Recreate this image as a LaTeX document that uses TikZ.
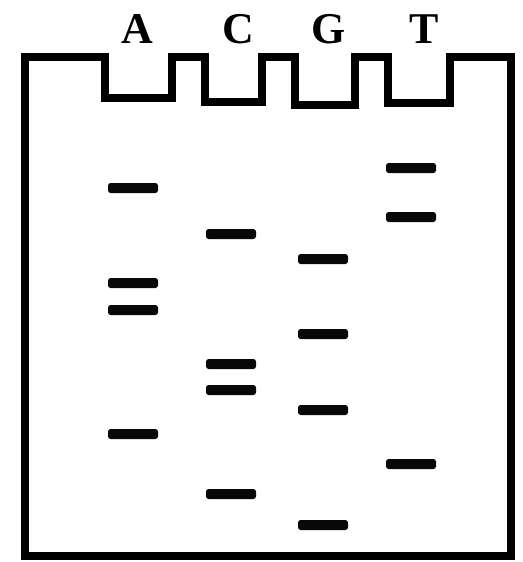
\documentclass[tikz,border=0pt]{standalone}
\usepackage{fontspec}
\setmainfont{Liberation Serif}
\definecolor{gelInk}{RGB}{0,0,0}
\definecolor{bandInk}{RGB}{8,8,8}

\begin{document}
\begin{tikzpicture}[x=0.02cm,y=-0.02cm,line join=miter]

% fixed canvas, 522 x 562 units
\path[use as bounding box] (0,0) rectangle (522,562);

% lane letters above the wells
\node[font=\bfseries\fontsize{25}{30}\selectfont,anchor=base] (laneA) at (137,43) {A};
\node[font=\bfseries\fontsize{25}{30}\selectfont,anchor=base] (laneC) at (238,43) {C};
\node[font=\bfseries\fontsize{25}{30}\selectfont,anchor=base] (laneG) at (329,43) {G};
\node[font=\bfseries\fontsize{25}{30}\selectfont,anchor=base] (laneT) at (424,43) {T};

% gel outline with the four sample wells cut into the top edge
\draw[gelInk,line width=4.1pt]
  (25,556) -- (25,57) -- (105,57) -- (105,98) -- (172,98) -- (172,57) --
  (205,57) -- (205,102) -- (262,102) -- (262,57) --
  (295,57) -- (295,105) -- (355,105) -- (355,57) --
  (388,57) -- (388,103) -- (450,103) -- (450,57) --
  (511,57) -- (511,556) -- cycle;

% bands, lane A
\foreach \y in {188,283,310,434}
  \fill[bandInk,rounded corners=1.5] (108,\y-5) rectangle (158,\y+5);

% bands, lane C
\foreach \y in {234,364,390,494}
  \fill[bandInk,rounded corners=1.5] (206,\y-5) rectangle (256,\y+5);

% bands, lane G
\foreach \y in {259,334,410,525}
  \fill[bandInk,rounded corners=1.5] (298,\y-5) rectangle (348,\y+5);

% bands, lane T
\foreach \y in {168,217,464}
  \fill[bandInk,rounded corners=1.5] (386,\y-5) rectangle (436,\y+5);

\end{tikzpicture}
\end{document}
